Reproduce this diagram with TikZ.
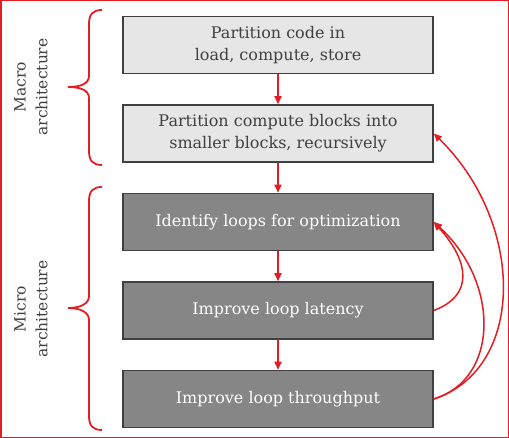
\documentclass[tikz,border=0pt]{standalone}
\usepackage{fontspec}
\setmainfont{DejaVu Serif}
\usetikzlibrary{arrows.meta}
\definecolor{myred}{RGB}{228,28,36}
\definecolor{lightbox}{RGB}{230,230,230}
\definecolor{darkbox}{RGB}{134,134,134}
\definecolor{edgegray}{RGB}{64,64,64}
\definecolor{textgray}{RGB}{64,64,64}
\tikzset{
  boxbase/.style={draw=edgegray, line width=1.5pt, minimum width=310pt, minimum height=57pt,
    inner sep=0pt, align=center, font=\fontsize{16}{21.7}\selectfont},
  lightstep/.style={boxbase, fill=lightbox, text=textgray},
  darkstep/.style={boxbase, fill=darkbox, text=white},
  flow/.style={draw=myred, line width=1.6pt, -{Triangle[length=8pt,width=7pt]}},
  fb/.style={draw=myred, line width=1.5pt, -{Triangle[length=8pt,width=7pt]}},
  bracestyle/.style={draw=myred, line width=1.8pt},
  sidelabel/.style={rotate=90, align=center, text=textgray, font=\fontsize{15.5}{21.7}\selectfont}
}
\begin{document}
\begin{tikzpicture}[x=1pt,y=-1pt]
\useasboundingbox (0,0) rectangle (509,438);
\draw[myred, line width=1.5pt] (0.75,0.75) rectangle (508.25,437.25);

\node[lightstep] (b1) at (278,45) {Partition code in\\load, compute, store};
\node[lightstep] (b2) at (278,133.5) {Partition compute blocks into\\smaller blocks, recursively};
\node[darkstep] (b3) at (278,222) {Identify loops for optimization};
\node[darkstep] (b4) at (278,310.5) {Improve loop latency};
\node[darkstep] (b5) at (278,399) {Improve loop throughput};

\draw[flow] (b1) -- (b2);
\draw[flow] (b2) -- (b3);
\draw[flow] (b3) -- (b4);
\draw[flow] (b4) -- (b5);

\draw[fb] (b4.east) .. controls +(40,-15) and +(36,40) .. (b3.east);
\draw[fb] (b5.east) .. controls +(66,-20) and +(66,60) .. (b3.east);
\draw[fb] (b5.east) .. controls +(92,-30) and +(92,90) .. (b2.east);

% Macro brace
\draw[bracestyle] (102,10) .. controls (93,10) and (89,14) .. (89,24) -- (89,76)
  .. controls (89,84) and (80,87) .. (68,87)
  .. controls (80,87) and (89,90) .. (89,98) -- (89,151)
  .. controls (89,161) and (93,165) .. (102,165);
% Micro brace
\draw[bracestyle] (102,187) .. controls (93,187) and (89,191) .. (89,201) -- (89,296)
  .. controls (89,304) and (80,308) .. (68,308)
  .. controls (80,308) and (89,312) .. (89,320) -- (89,416)
  .. controls (89,426) and (93,430) .. (102,430);

\node[sidelabel] (lmacro) at (31,87) {Macro\\architecture};
\node[sidelabel] (lmicro) at (31,309) {Micro\\architecture};
\end{tikzpicture}
\end{document}
